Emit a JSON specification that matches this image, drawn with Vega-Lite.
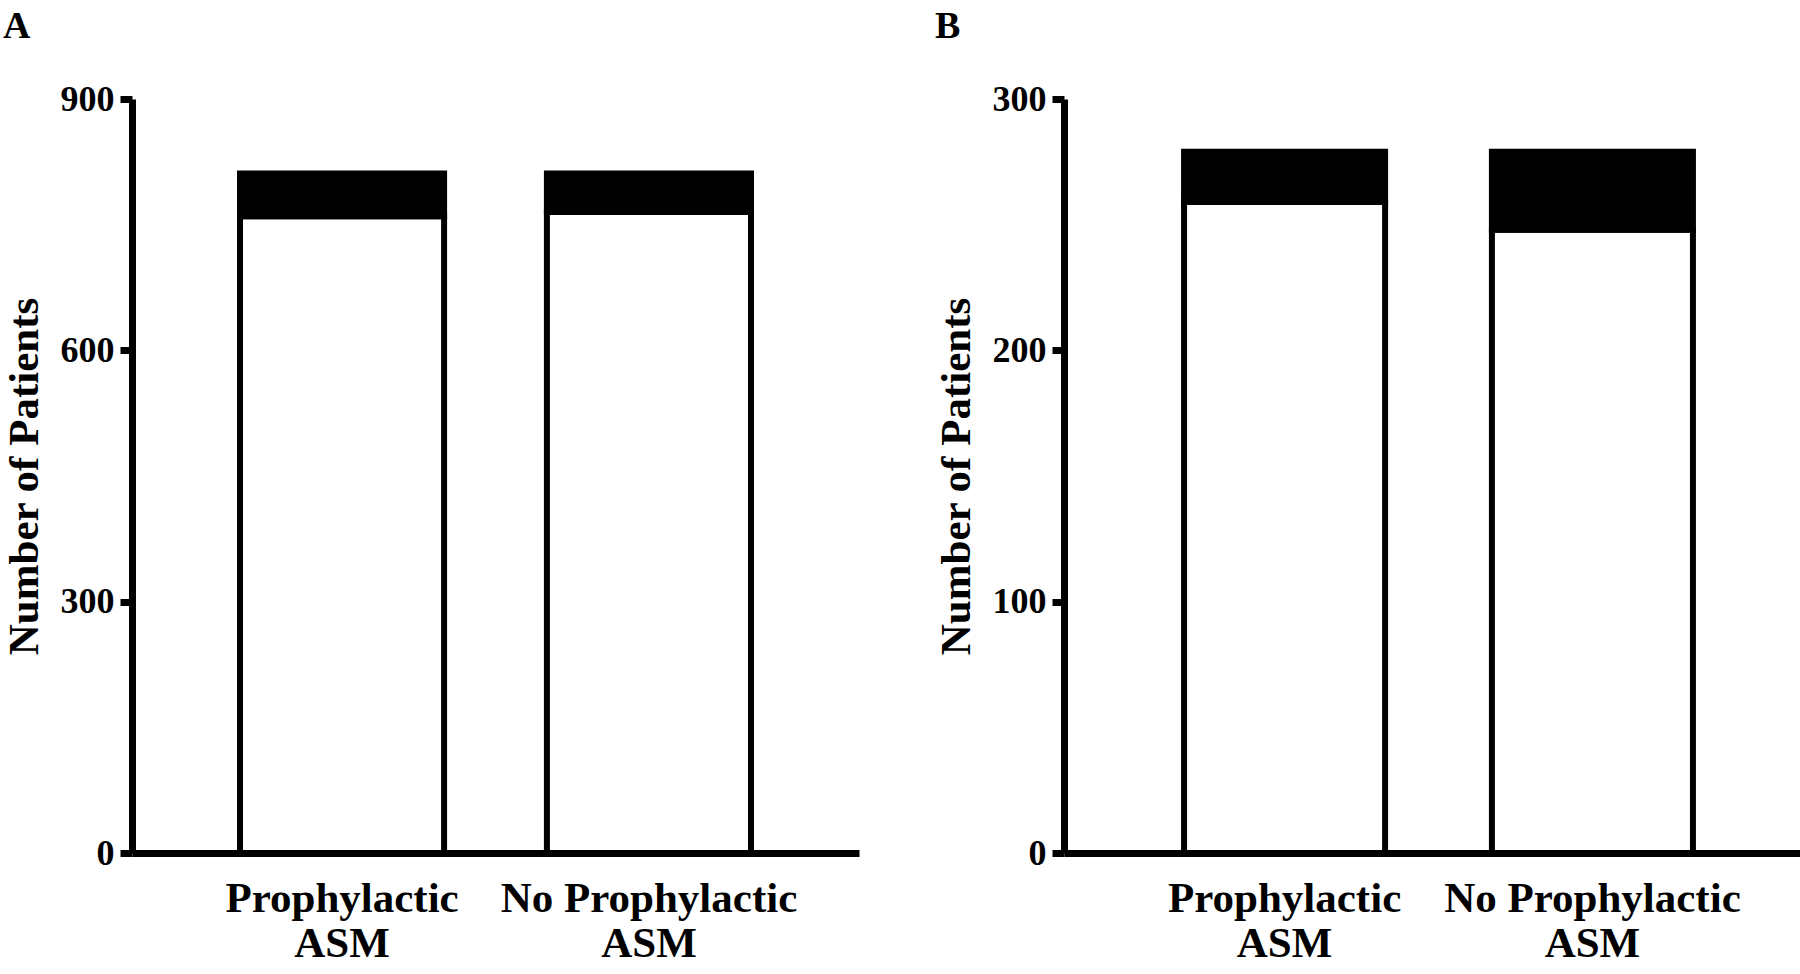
{
  "$schema": "https://vega.github.io/schema/vega-lite/v6.json",
  "background": "white",
  "padding": {"left": 3, "top": 8, "right": 0, "bottom": 0},
  "spacing": 76,
  "config": {
    "view": {"stroke": null},
    "font": "Liberation Serif",
    "axis": {
      "domainColor": "black",
      "domainWidth": 7,
      "tickColor": "black",
      "tickWidth": 7,
      "tickSize": 12,
      "grid": false,
      "labelColor": "black",
      "labelFont": "Liberation Serif",
      "labelFontWeight": "bold",
      "labelLimit": 0,
      "titleFont": "Liberation Serif",
      "titleFontWeight": "bold",
      "titleColor": "black"
    },
    "title": {"font": "Liberation Serif", "fontWeight": "bold", "color": "black", "fontSize": 38, "anchor": "start", "frame": "bounds"}
  },
  "datasets": {
    "a": [
      {"group": "Prophylactic ASM", "outcome": "No seizure", "count": 760},
      {"group": "Prophylactic ASM", "outcome": "Seizure", "count": 51},
      {"group": "No Prophylactic ASM", "outcome": "No seizure", "count": 765},
      {"group": "No Prophylactic ASM", "outcome": "Seizure", "count": 46}
    ],
    "b": [
      {"group": "Prophylactic ASM", "outcome": "No seizure", "count": 259},
      {"group": "Prophylactic ASM", "outcome": "Seizure", "count": 20},
      {"group": "No Prophylactic ASM", "outcome": "No seizure", "count": 248},
      {"group": "No Prophylactic ASM", "outcome": "Seizure", "count": 31}
    ]
  },
  "hconcat": [
    {
      "title": {"text": "A", "offset": 35},
      "width": 727,
      "height": 754,
      "data": {"name": "a"},
      "mark": {"type": "bar", "stroke": "black", "strokeWidth": 6},
      "encoding": {
        "x": {
          "field": "group", "type": "nominal",
          "sort": ["Prophylactic ASM", "No Prophylactic ASM"],
          "scale": {"paddingInner": 0.335, "paddingOuter": 0.352},
          "axis": {"title": null, "labelAngle": 0, "ticks": false, "labelFontSize": 43, "labelPadding": 24, "labelLineHeight": 45,
                   "labelExpr": "split(replace(datum.label, ' ASM', '|ASM'), '|')"}
        },
        "y": {
          "field": "count", "type": "quantitative", "stack": "zero",
          "scale": {"domain": [0, 900], "nice": false},
          "axis": {"values": [0, 300, 600, 900], "title": "Number of Patients", "titleFontSize": 43, "labelFontSize": 36, "labelPadding": 6, "titlePadding": 14}
        },
        "color": {"field": "outcome", "type": "nominal", "scale": {"domain": ["No seizure", "Seizure"], "range": ["white", "black"]}, "legend": null},
        "order": {"field": "outcome", "sort": "ascending"}
      }
    },
    {
      "title": {"text": "B", "offset": 35},
      "width": 749,
      "height": 754,
      "data": {"name": "b"},
      "mark": {"type": "bar", "stroke": "black", "strokeWidth": 6},
      "encoding": {
        "x": {
          "field": "group", "type": "nominal",
          "sort": ["Prophylactic ASM", "No Prophylactic ASM"],
          "scale": {"paddingInner": 0.347, "paddingOuter": 0.39},
          "axis": {"title": null, "labelAngle": 0, "ticks": false, "labelFontSize": 43, "labelPadding": 24, "labelLineHeight": 45,
                   "labelExpr": "split(replace(datum.label, ' ASM', '|ASM'), '|')"}
        },
        "y": {
          "field": "count", "type": "quantitative", "stack": "zero",
          "scale": {"domain": [0, 300], "nice": false},
          "axis": {"values": [0, 100, 200, 300], "title": "Number of Patients", "titleFontSize": 43, "labelFontSize": 36, "labelPadding": 6, "titlePadding": 14}
        },
        "color": {"field": "outcome", "type": "nominal", "scale": {"domain": ["No seizure", "Seizure"], "range": ["white", "black"]}, "legend": null},
        "order": {"field": "outcome", "sort": "ascending"}
      }
    }
  ]
}
